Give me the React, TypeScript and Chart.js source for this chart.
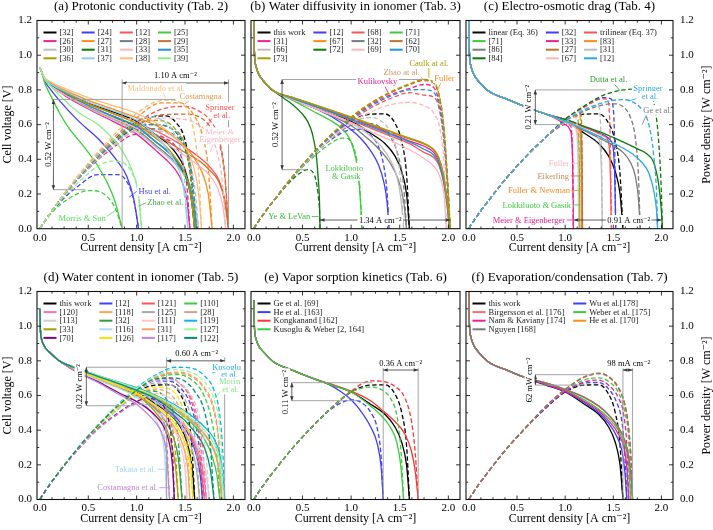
import React, { useEffect, useRef } from "react";
import { Chart, registerables } from "chart.js";

Chart.register(...registerables);

const FONT = '"Liberation Serif", "DejaVu Serif", "Times New Roman", serif';

// ---------------- axis ticks / titles ----------------
const xTickValues = [0, 0.5, 1.0, 1.5, 2.0];
const yTickValues = [0, 0.2, 0.4, 0.6, 0.8, 1.0, 1.2];
const panelTitles = [
  "(a) Protonic conductivity (Tab. 2)",
  "(b) Water diffusivity in ionomer (Tab. 3)",
  "(c) Electro-osmotic drag (Tab. 4)",
  "(d) Water content in ionomer (Tab. 5)",
  "(e) Vapor sorption kinetics (Tab. 6)",
  "(f) Evaporation/condensation (Tab. 7)",
];
const xTitle = "Current density [A cm⁻²]";
const yTitle = "Cell voltage [V]";
const y2Title = "Power density [W cm⁻²]";

// ---------------- data: [current density, cell voltage] pairs ----------------
// (a) protonic conductivity
const aStart = [0, 0.93, 0.02, 0.9];
const a32 = [0.05, 0.865, 0.1, 0.84, 0.25, 0.79, 0.5, 0.725, 0.75, 0.675, 1.0, 0.62, 1.2, 0.54, 1.3, 0.5, 1.4, 0.44, 1.5, 0.34, 1.56, 0.2, 1.6, 0];
const a24 = [0.05, 0.85, 0.1, 0.81, 0.2, 0.74, 0.4, 0.62, 0.6, 0.52, 0.8, 0.39, 0.9, 0.3, 0.97, 0.17, 1.02, 0];
const a12 = [0.05, 0.86, 0.1, 0.835, 0.25, 0.785, 0.5, 0.72, 0.75, 0.665, 1.0, 0.61, 1.25, 0.55, 1.5, 0.47, 1.65, 0.41, 1.75, 0.36, 1.85, 0.28, 1.91, 0.17, 1.95, 0];
const a25 = [0.05, 0.84, 0.1, 0.78, 0.2, 0.67, 0.3, 0.58, 0.4, 0.51, 0.5, 0.44, 0.6, 0.36, 0.7, 0.26, 0.78, 0.15, 0.85, 0];
const a26 = [0.05, 0.86, 0.1, 0.83, 0.25, 0.77, 0.5, 0.69, 0.75, 0.62, 1.0, 0.545, 1.2, 0.45, 1.3, 0.4, 1.4, 0.34, 1.47, 0.27, 1.52, 0.16, 1.55, 0];
const a27 = [0.05, 0.865, 0.1, 0.845, 0.25, 0.8, 0.5, 0.74, 0.75, 0.69, 1.0, 0.64, 1.25, 0.58, 1.45, 0.5, 1.58, 0.42, 1.68, 0.32, 1.74, 0.2, 1.78, 0];
const a28 = [0.05, 0.86, 0.1, 0.835, 0.25, 0.78, 0.5, 0.7, 0.75, 0.635, 1.0, 0.57, 1.2, 0.48, 1.35, 0.41, 1.45, 0.35, 1.53, 0.27, 1.58, 0.16, 1.62, 0];
const a29 = [0.05, 0.86, 0.1, 0.835, 0.25, 0.78, 0.5, 0.71, 0.75, 0.65, 1.0, 0.59, 1.25, 0.525, 1.5, 0.44, 1.65, 0.39, 1.75, 0.34, 1.85, 0.27, 1.91, 0.16, 1.95, 0];
const a30 = [0.05, 0.86, 0.1, 0.83, 0.25, 0.775, 0.5, 0.695, 0.75, 0.63, 1.0, 0.56, 1.2, 0.47, 1.35, 0.4, 1.45, 0.34, 1.54, 0.26, 1.6, 0.15, 1.64, 0];
const a31 = [0.05, 0.86, 0.1, 0.835, 0.25, 0.78, 0.5, 0.705, 0.75, 0.645, 1.0, 0.585, 1.2, 0.5, 1.35, 0.43, 1.45, 0.36, 1.53, 0.26, 1.57, 0.15, 1.6, 0];
const a33 = [0.05, 0.86, 0.1, 0.83, 0.25, 0.775, 0.5, 0.705, 0.75, 0.64, 1.0, 0.58, 1.25, 0.51, 1.5, 0.42, 1.65, 0.36, 1.75, 0.31, 1.84, 0.23, 1.89, 0.13, 1.92, 0];
const a35 = [0.05, 0.86, 0.1, 0.835, 0.25, 0.785, 0.5, 0.71, 0.75, 0.65, 1.0, 0.59, 1.2, 0.5, 1.3, 0.455, 1.4, 0.4, 1.5, 0.32, 1.57, 0.2, 1.62, 0];
const a36 = [0.05, 0.865, 0.1, 0.84, 0.25, 0.79, 0.5, 0.72, 0.75, 0.665, 1.0, 0.605, 1.2, 0.52, 1.3, 0.475, 1.4, 0.41, 1.5, 0.32, 1.56, 0.19, 1.6, 0];
const a37 = [0.05, 0.865, 0.1, 0.84, 0.25, 0.795, 0.5, 0.73, 0.75, 0.68, 1.0, 0.625, 1.15, 0.56, 1.3, 0.47, 1.4, 0.38, 1.48, 0.25, 1.53, 0];
const a38 = [0.05, 0.87, 0.1, 0.85, 0.25, 0.81, 0.5, 0.755, 0.75, 0.71, 1.0, 0.665, 1.2, 0.61, 1.35, 0.55, 1.45, 0.5, 1.55, 0.42, 1.62, 0.28, 1.65, 0.15, 1.67, 0];
const a39 = [0.05, 0.86, 0.1, 0.83, 0.2, 0.77, 0.4, 0.67, 0.6, 0.6, 0.75, 0.52, 0.85, 0.45, 0.95, 0.34, 1.02, 0.19, 1.05, 0];

// (b) water diffusivity in ionomer
const bStart = [0, 1.2, 0.005, 1.02, 0.02, 0.94, 0.05, 0.89, 0.1, 0.85, 0.2, 0.795];
const bThis = [0.4, 0.745, 0.6, 0.7, 0.8, 0.66, 1.0, 0.62, 1.2, 0.55, 1.35, 0.49, 1.45, 0.42, 1.52, 0.33, 1.57, 0.2, 1.6, 0];
const b12 = [0.4, 0.745, 0.6, 0.7, 0.8, 0.645, 1.0, 0.57, 1.1, 0.52, 1.2, 0.45, 1.28, 0.37, 1.34, 0.26, 1.37, 0.15, 1.39, 0];
const b68 = [0.4, 0.75, 0.6, 0.71, 0.8, 0.67, 1.0, 0.625, 1.2, 0.58, 1.4, 0.535, 1.6, 0.49, 1.75, 0.44, 1.85, 0.41, 1.9, 0.37, 1.95, 0.27, 1.99, 0.12, 2.01, 0];
const b71 = [0.4, 0.74, 0.6, 0.68, 0.8, 0.62, 0.9, 0.58, 0.95, 0.55, 1.0, 0.5, 1.05, 0.4, 1.08, 0.28, 1.1, 0.12, 1.11, 0];
const b31 = [0.4, 0.755, 0.6, 0.715, 0.8, 0.675, 1.0, 0.635, 1.2, 0.595, 1.4, 0.55, 1.6, 0.505, 1.75, 0.475, 1.85, 0.44, 1.9, 0.39, 1.95, 0.29, 1.99, 0.14, 2.02, 0];
const b67 = [0.4, 0.755, 0.6, 0.718, 0.8, 0.68, 1.0, 0.642, 1.2, 0.602, 1.4, 0.56, 1.6, 0.52, 1.75, 0.49, 1.85, 0.455, 1.9, 0.41, 1.95, 0.31, 1.99, 0.15, 2.02, 0];
const b32 = [0.4, 0.745, 0.6, 0.7, 0.8, 0.65, 1.0, 0.595, 1.2, 0.505, 1.3, 0.45, 1.4, 0.38, 1.48, 0.29, 1.54, 0.16, 1.57, 0];
const b62 = [0.4, 0.755, 0.6, 0.717, 0.8, 0.679, 1.0, 0.641, 1.2, 0.6, 1.4, 0.558, 1.6, 0.518, 1.75, 0.488, 1.85, 0.453, 1.9, 0.408, 1.95, 0.31, 1.99, 0.15, 2.02, 0];
const b66 = [0.4, 0.745, 0.6, 0.7, 0.8, 0.66, 1.0, 0.61, 1.2, 0.535, 1.3, 0.48, 1.4, 0.4, 1.47, 0.3, 1.51, 0.18, 1.54, 0];
const b72 = [0.3, 0.755, 0.4, 0.715, 0.5, 0.66, 0.55, 0.62, 0.6, 0.55, 0.64, 0.43, 0.66, 0.3, 0.675, 0.15, 0.68, 0];
const b69 = [0.4, 0.745, 0.6, 0.7, 0.8, 0.655, 1.0, 0.61, 1.2, 0.56, 1.4, 0.51, 1.6, 0.455, 1.75, 0.405, 1.85, 0.36, 1.92, 0.29, 1.96, 0.17, 1.98, 0];
const b70 = [0.4, 0.75, 0.6, 0.712, 0.8, 0.672, 1.0, 0.63, 1.2, 0.588, 1.4, 0.545, 1.6, 0.5, 1.75, 0.458, 1.85, 0.425, 1.9, 0.38, 1.95, 0.28, 1.99, 0.13, 2.01, 0];
const b73 = [0.4, 0.756, 0.6, 0.72, 0.8, 0.682, 1.0, 0.644, 1.2, 0.604, 1.4, 0.562, 1.6, 0.522, 1.75, 0.492, 1.85, 0.457, 1.9, 0.412, 1.95, 0.312, 1.99, 0.15, 2.02, 0];

// (c) electro-osmotic drag
const cStart = [0, 1.2, 0.005, 1.02, 0.02, 0.94, 0.05, 0.89, 0.1, 0.85, 0.2, 0.795, 0.4, 0.745, 0.6, 0.7, 0.8, 0.66];
const cLinear = [1.0, 0.62, 1.2, 0.55, 1.35, 0.49, 1.45, 0.42, 1.52, 0.33, 1.57, 0.2, 1.6, 0];
const c32 = [1.0, 0.63, 1.2, 0.585, 1.4, 0.54, 1.47, 0.51, 1.5, 0.46, 1.515, 0.3, 1.525, 0];
const cTrilinear = [1.0, 0.63, 1.2, 0.585, 1.4, 0.535, 1.44, 0.515, 1.46, 0.45, 1.47, 0.3, 1.48, 0];
const c71 = [0.9, 0.64, 1.0, 0.615, 1.1, 0.59, 1.13, 0.56, 1.145, 0.35, 1.15, 0];
const c33 = [0.9, 0.635, 1.0, 0.6, 1.05, 0.57, 1.07, 0.5, 1.08, 0.3, 1.085, 0];
const c83 = [0.9, 0.64, 1.0, 0.615, 1.1, 0.59, 1.15, 0.565, 1.165, 0.4, 1.17, 0];
const c86 = [1.0, 0.62, 1.2, 0.565, 1.4, 0.51, 1.5, 0.48, 1.6, 0.44, 1.68, 0.38, 1.73, 0.3, 1.76, 0.18, 1.78, 0];
const c27 = [0.9, 0.64, 1.0, 0.617, 1.1, 0.592, 1.16, 0.57, 1.175, 0.4, 1.18, 0];
const c31 = [1.0, 0.625, 1.2, 0.575, 1.3, 0.545, 1.35, 0.52, 1.37, 0.42, 1.38, 0.25, 1.385, 0];
const c84 = [1.0, 0.63, 1.2, 0.59, 1.4, 0.55, 1.6, 0.5, 1.75, 0.46, 1.85, 0.43, 1.92, 0.38, 1.97, 0.26, 2.0, 0.1, 2.01, 0];
const c67 = [0.9, 0.64, 1.0, 0.615, 1.1, 0.585, 1.12, 0.55, 1.135, 0.35, 1.14, 0];
const c12 = [1.0, 0.62, 1.2, 0.57, 1.4, 0.52, 1.6, 0.465, 1.7, 0.43, 1.8, 0.38, 1.87, 0.32, 1.92, 0.22, 1.95, 0.1, 1.96, 0];

// (d) water content in ionomer
const dStart = [0, 1.1, 0.005, 0.98, 0.02, 0.92, 0.05, 0.88, 0.1, 0.85, 0.2, 0.8];
const dThis = [0.4, 0.745, 0.6, 0.7, 0.8, 0.66, 1.0, 0.62, 1.2, 0.55, 1.35, 0.49, 1.45, 0.42, 1.52, 0.33, 1.57, 0.2, 1.6, 0];
const d12 = [0.4, 0.75, 0.6, 0.705, 0.8, 0.665, 1.0, 0.63, 1.2, 0.57, 1.35, 0.505, 1.45, 0.445, 1.55, 0.36, 1.62, 0.25, 1.66, 0.13, 1.68, 0];
const d121 = [0.4, 0.75, 0.6, 0.707, 0.8, 0.668, 1.0, 0.635, 1.2, 0.58, 1.35, 0.52, 1.45, 0.46, 1.55, 0.38, 1.63, 0.26, 1.67, 0.15, 1.7, 0];
const d110 = [0.4, 0.755, 0.6, 0.712, 0.8, 0.675, 1.0, 0.635, 1.2, 0.585, 1.4, 0.515, 1.55, 0.45, 1.7, 0.35, 1.78, 0.25, 1.83, 0.14, 1.86, 0];
const d120 = [0.4, 0.75, 0.6, 0.706, 0.8, 0.667, 1.0, 0.63, 1.2, 0.575, 1.35, 0.515, 1.45, 0.46, 1.55, 0.39, 1.64, 0.27, 1.69, 0.15, 1.72, 0];
const d118 = [0.4, 0.755, 0.6, 0.714, 0.8, 0.678, 1.0, 0.64, 1.2, 0.59, 1.4, 0.525, 1.55, 0.465, 1.7, 0.38, 1.8, 0.29, 1.85, 0.18, 1.88, 0];
const d125 = [0.4, 0.748, 0.6, 0.703, 0.8, 0.662, 1.0, 0.625, 1.2, 0.56, 1.35, 0.49, 1.45, 0.43, 1.53, 0.35, 1.6, 0.23, 1.63, 0.12, 1.65, 0];
const d28 = [0.4, 0.754, 0.6, 0.713, 0.8, 0.677, 1.0, 0.638, 1.2, 0.588, 1.4, 0.52, 1.55, 0.46, 1.7, 0.375, 1.8, 0.28, 1.85, 0.17, 1.88, 0];
const d113 = [0.4, 0.75, 0.6, 0.706, 0.8, 0.666, 1.0, 0.63, 1.2, 0.575, 1.4, 0.49, 1.5, 0.43, 1.6, 0.35, 1.68, 0.24, 1.72, 0.14, 1.75, 0];
const d32 = [0.4, 0.742, 0.6, 0.695, 0.8, 0.65, 1.0, 0.61, 1.1, 0.57, 1.2, 0.52, 1.3, 0.45, 1.38, 0.36, 1.43, 0.24, 1.47, 0];
const d111 = [0.4, 0.742, 0.6, 0.696, 0.8, 0.652, 1.0, 0.6, 1.2, 0.51, 1.3, 0.46, 1.4, 0.39, 1.46, 0.3, 1.5, 0.17, 1.52, 0];
const d119 = [0.4, 0.755, 0.6, 0.715, 0.8, 0.68, 1.0, 0.645, 1.2, 0.6, 1.4, 0.545, 1.55, 0.49, 1.7, 0.42, 1.8, 0.35, 1.86, 0.26, 1.89, 0.15, 1.91, 0];
const d33 = [0.4, 0.74, 0.6, 0.692, 0.8, 0.648, 1.0, 0.6, 1.1, 0.56, 1.2, 0.5, 1.3, 0.42, 1.36, 0.32, 1.4, 0.2, 1.43, 0];
const d116 = [0.4, 0.74, 0.6, 0.69, 0.8, 0.645, 1.0, 0.59, 1.1, 0.54, 1.2, 0.46, 1.26, 0.37, 1.29, 0.25, 1.31, 0];
const d31 = [0.4, 0.745, 0.6, 0.7, 0.8, 0.658, 1.0, 0.61, 1.2, 0.53, 1.3, 0.48, 1.4, 0.41, 1.48, 0.31, 1.53, 0.17, 1.55, 0];
const d127 = [0.4, 0.755, 0.6, 0.715, 0.8, 0.679, 1.0, 0.64, 1.2, 0.595, 1.4, 0.535, 1.55, 0.475, 1.7, 0.4, 1.8, 0.32, 1.86, 0.22, 1.9, 0];
const d70 = [0.4, 0.73, 0.6, 0.68, 0.8, 0.62, 1.0, 0.565, 1.1, 0.53, 1.2, 0.48, 1.28, 0.42, 1.34, 0.32, 1.37, 0.2, 1.39, 0];
const d126 = [0.4, 0.745, 0.6, 0.7, 0.8, 0.658, 1.0, 0.615, 1.2, 0.54, 1.35, 0.47, 1.45, 0.39, 1.52, 0.29, 1.56, 0.17, 1.58, 0];
const d117 = [0.4, 0.73, 0.6, 0.675, 0.8, 0.612, 1.0, 0.55, 1.1, 0.5, 1.2, 0.44, 1.27, 0.37, 1.31, 0.26, 1.34, 0];
const d122 = [0.4, 0.752, 0.6, 0.71, 0.8, 0.672, 1.0, 0.63, 1.2, 0.58, 1.4, 0.5, 1.5, 0.455, 1.6, 0.39, 1.7, 0.3, 1.76, 0.18, 1.8, 0];

// (e) vapor sorption kinetics
const eStart = [0, 1.15, 0.005, 1.0, 0.02, 0.93, 0.05, 0.885, 0.1, 0.85, 0.2, 0.795, 0.4, 0.745, 0.6, 0.7];
const eGe = [0.8, 0.66, 1.0, 0.62, 1.2, 0.55, 1.35, 0.49, 1.45, 0.42, 1.52, 0.33, 1.57, 0.2, 1.6, 0];
const eHe = [0.75, 0.67, 0.9, 0.62, 1.0, 0.575, 1.1, 0.51, 1.2, 0.42, 1.27, 0.32, 1.31, 0.18, 1.33, 0];
const eKong = [0.8, 0.665, 1.0, 0.625, 1.2, 0.57, 1.3, 0.525, 1.45, 0.45, 1.55, 0.38, 1.62, 0.28, 1.66, 0.16, 1.69, 0];
const eKus = [0.8, 0.66, 1.0, 0.62, 1.2, 0.54, 1.3, 0.49, 1.4, 0.42, 1.47, 0.33, 1.51, 0.2, 1.54, 0];

// (f) evaporation / condensation
const fStart = [0, 1.2, 0.005, 1.02, 0.02, 0.94, 0.05, 0.89, 0.1, 0.85, 0.2, 0.795, 0.4, 0.745, 0.6, 0.7];
const fThis = [0.8, 0.66, 1.0, 0.62, 1.2, 0.55, 1.35, 0.49, 1.45, 0.42, 1.52, 0.33, 1.57, 0.2, 1.6, 0];
const fWu = [0.8, 0.662, 1.0, 0.622, 1.2, 0.56, 1.35, 0.5, 1.45, 0.44, 1.53, 0.37, 1.59, 0.28, 1.62, 0.16, 1.64, 0];
const fBirg = [0.8, 0.672, 1.0, 0.634, 1.2, 0.588, 1.35, 0.537, 1.45, 0.487, 1.55, 0.415, 1.62, 0.335, 1.66, 0.24, 1.69, 0.1, 1.7, 0];
const fWeber = [0.8, 0.668, 1.0, 0.63, 1.2, 0.575, 1.35, 0.52, 1.45, 0.47, 1.55, 0.4, 1.62, 0.31, 1.66, 0.2, 1.68, 0];
const fNam = [0.8, 0.665, 1.0, 0.625, 1.2, 0.565, 1.35, 0.51, 1.45, 0.455, 1.55, 0.38, 1.61, 0.3, 1.64, 0.19, 1.66, 0];
const fHe = [0.8, 0.673, 1.0, 0.635, 1.2, 0.59, 1.35, 0.54, 1.45, 0.49, 1.55, 0.42, 1.62, 0.34, 1.66, 0.25, 1.69, 0.1, 1.7, 0];
const fNguyen = [0.8, 0.673, 1.0, 0.635, 1.2, 0.589, 1.35, 0.539, 1.45, 0.489, 1.55, 0.418, 1.62, 0.338, 1.66, 0.245, 1.69, 0.1, 1.7, 0];

// ---------------- legend labels ----------------
const aLabels = ["[32]", "[24]", "[12]", "[25]", "[26]", "[27]", "[28]", "[29]", "[30]", "[31]", "[33]", "[35]", "[36]", "[37]", "[38]", "[39]"];
const bLabels = ["this work", "[12]", "[68]", "[71]", "[31]", "[67]", "[32]", "[62]", "[66]", "[72]", "[69]", "[70]", "[73]"];
const cLabels = ["linear (Eq. 36)", "[32]", "trilinear (Eq. 37)", "[71]", "[33]", "[83]", "[86]", "[27]", "[31]", "[84]", "[67]", "[12]"];
const dLabels = ["this work", "[12]", "[121]", "[110]", "[120]", "[118]", "[125]", "[28]", "[113]", "[32]", "[111]", "[119]", "[33]", "[116]", "[31]", "[127]", "[70]", "[126]", "[117]", "[122]"];
const eLabels = ["Ge et al. [69]", "He et al. [163]", "Kongkanand [162]", "Kusoglu & Weber [2, 164]"];
const fLabels = ["this work", "Wu et al.[178]", "Birgersson et al. [176]", "Weber et al. [175]", "Nam & Kaviany [174]", "He et al. [170]", "Nguyen [168]"];

// ---------------- styles ----------------
const COL = {
  black: "#000000", blue: "#3f3fff", red: "#ff5252", green: "#3ccc3c", magenta: "#ee1f96",
  orange: "#ff8c1a", grey: "#7a7a7a", brown: "#c4732f", lgrey: "#bdbdbd", dgreen: "#0b7a0b",
  lpink: "#ffb5bd", dodger: "#2290dd", olive: "#ab9c00", lblue: "#8fd0f8", lorange: "#ffbc78",
  lgreen: "#8aee8a", sky: "#2aaae2", hotpink: "#ff6eb4", lorange2: "#ffa552", grey2: "#a8a8a8",
  tan: "#d4a27e", lgrey2: "#cfcfcf", mgreen: "#2f9e3f", lpink2: "#ffc4c4", dsky: "#0cb4f0",
  paleblue: "#aedcf0", sandy: "#f4a460", palegreen: "#9cf59c", purple: "#850085", yellow: "#f5e600",
  orchid: "#c784d6", teal: "#00906e", salmon: "#ff6a6a",
};

type Ann = (string | number)[];
interface PanelCfg {
  key: string; title: string; col: number; row: number; ncol: number;
  start: number[]; curves: number[][]; labels: string[]; colors: string[]; ann: Ann[];
}

const GREYL = "#9a9a9a";
const PANELS: PanelCfg[] = [
  {
    key: "a", title: panelTitles[0], col: 0, row: 0, ncol: 4, start: aStart,
    curves: [a32, a24, a12, a25, a26, a27, a28, a29, a30, a31, a33, a35, a36, a37, a38, a39],
    labels: aLabels,
    colors: [COL.black, COL.blue, COL.red, COL.green, COL.magenta, COL.orange, COL.grey, COL.brown, COL.lgrey, COL.dgreen, COL.lpink, COL.dodger, COL.olive, COL.lblue, COL.lorange, COL.lgreen],
    ann: [
      ["line", 0.14, 0.745, 1.4, 0.745], ["line", 0.14, 0.225, 0.47, 0.225], ["arrow", 0.14, 0.745, 0.14, 0.225],
      ["text", 0.085, 0.485, "0.52 W cm⁻²", "#000", 1, "c"],
      ["line", 0.85, 0.86, 0.85, 0], ["line", 1.95, 0.86, 1.95, 0], ["arrow", 0.85, 0.84, 1.95, 0.84],
      ["text", 1.4, 0.885, "1.10 A cm⁻²", "#000", 0, "c"],
      ["lead", 1.26, 0.795, 1.3, 0.755, COL.lorange], ["text", 1.2, 0.81, "Maldonado et al.", COL.lorange, 0, "c"],
      ["lead", 1.57, 0.75, 1.5, 0.72, "#e39a50"], ["text", 1.66, 0.765, "Costamagna", "#e39a50", 0, "c"],
      ["lead", 1.78, 0.635, 1.72, 0.59, COL.red], ["text", 1.86, 0.7, "Springer", COL.red, 0, "c"], ["text", 1.88, 0.655, "et al.", COL.red, 0, "c"],
      ["lead", 1.8, 0.5, 1.76, 0.44, COL.lpink], ["text", 1.86, 0.555, "Meier &", COL.lpink, 0, "c"], ["text", 1.86, 0.515, "Eigenberger", COL.lpink, 0, "c"],
      ["lead", 1.0, 0.215, 0.92, 0.18, COL.blue], ["text", 1.02, 0.215, "Hsu et al.", COL.blue, 0, "l"],
      ["lead", 1.1, 0.15, 1.02, 0.13, "#44aa44"], ["text", 1.11, 0.15, "Zhao et al.", "#44aa44", 0, "l"],
      ["lead", 0.69, 0.07, 0.79, 0.11, "#55dd55"], ["text", 0.68, 0.06, "Morris & Sun", "#55dd55", 0, "r"],
    ],
  },
  {
    key: "b", title: panelTitles[1], col: 1, row: 0, ncol: 4, start: bStart,
    curves: [bThis, b12, b68, b71, b31, b67, b32, b62, b66, b72, b69, b70, b73],
    labels: bLabels,
    colors: [COL.black, COL.blue, COL.red, COL.green, COL.magenta, COL.orange, COL.grey, COL.brown, COL.lgrey, COL.dgreen, COL.lpink, COL.dodger, COL.olive],
    ann: [
      ["line", 0.29, 0.86, 1.75, 0.86], ["line", 0.29, 0.34, 0.55, 0.34], ["arrow", 0.29, 0.86, 0.29, 0.34],
      ["text", 0.22, 0.6, "0.52 W cm⁻²", "#000", 1, "c"],
      ["arrow", 0.68, 0.05, 2.02, 0.05], ["text", 1.3, 0.05, "1.34 A cm⁻²", "#000", 0, "c"],
      ["lead", 0.59, 0.07, 0.665, 0.07, "#33bb33"], ["text", 0.58, 0.07, "Ye & LeVan", "#33bb33", 0, "r"],
      ["lead", 1.07, 0.285, 1.09, 0.24, COL.green], ["text", 0.93, 0.35, "Lokkiluoto", COL.green, 0, "c"], ["text", 0.95, 0.305, "& Gasik", COL.green, 0, "c"],
      ["lead", 1.34, 0.83, 1.38, 0.785, COL.magenta], ["text", 1.27, 0.848, "Kulikovsky", COL.magenta, 0, "c"],
      ["lead", 1.7, 0.89, 1.74, 0.86, "#d8956a"], ["text", 1.52, 0.9, "Zhao at al.", "#d8956a", 0, "c"],
      ["lead", 1.8, 0.935, 1.8, 0.87, COL.olive], ["text", 1.8, 0.955, "Caulk at al.", COL.olive, 0, "c"],
      ["lead", 1.93, 0.85, 1.89, 0.8, COL.orange], ["text", 1.96, 0.868, "Fuller", COL.orange, 0, "c"],
    ],
  },
  {
    key: "c", title: panelTitles[2], col: 2, row: 0, ncol: 3, start: cStart,
    curves: [cLinear, c32, cTrilinear, c71, c33, c83, c86, c27, c31, c84, c67, c12],
    labels: cLabels,
    colors: [COL.black, COL.blue, COL.red, COL.green, COL.magenta, COL.orange, COL.grey, COL.brown, COL.lgrey, COL.dgreen, COL.lpink, COL.sky],
    ann: [
      ["line", 0.69, 0.8, 1.42, 0.8], ["line", 0.69, 0.6, 0.96, 0.6], ["arrow", 0.69, 0.8, 0.69, 0.6],
      ["text", 0.62, 0.7, "0.21 W cm⁻²", "#000", 1, "c"],
      ["arrow", 1.09, 0.05, 2.0, 0.05], ["text", 1.66, 0.05, "0.91 A cm⁻²", "#000", 0, "c"],
      ["lead", 1.5, 0.84, 1.57, 0.795, "#2e9e2e"], ["text", 1.45, 0.86, "Dutta et al.", "#2e9e2e", 0, "c"],
      ["lead", 1.74, 0.75, 1.66, 0.735, COL.sky], ["text", 1.86, 0.81, "Springer", COL.sky, 0, "c"], ["text", 1.88, 0.765, "et al.", COL.sky, 0, "c"],
      ["lead", 1.85, 0.665, 1.8, 0.6, COL.grey], ["text", 1.96, 0.685, "Ge et al.", COL.grey, 0, "c"],
      ["lead", 1.045, 0.377, 1.13, 0.377, COL.lpink], ["text", 1.04, 0.377, "Fuller", COL.lpink, 0, "r"],
      ["lead", 1.045, 0.304, 1.172, 0.304, COL.brown], ["text", 1.04, 0.304, "Eikerling", "#c98a5a", 0, "r"],
      ["lead", 1.055, 0.22, 1.165, 0.22, COL.orange], ["text", 1.05, 0.22, "Fuller & Newman", COL.orange, 0, "r"],
      ["lead", 1.065, 0.137, 1.145, 0.137, COL.green], ["text", 1.06, 0.137, "Lokkiluoto & Gasik", COL.green, 0, "r"],
      ["lead", 1.005, 0.05, 1.08, 0.05, COL.magenta], ["text", 1.0, 0.05, "Meier & Eigenberger", COL.magenta, 0, "r"],
    ],
  },
  {
    key: "d", title: panelTitles[3], col: 0, row: 1, ncol: 4, start: dStart,
    curves: [dThis, d12, d121, d110, d120, d118, d125, d28, d113, d32, d111, d119, d33, d116, d31, d127, d70, d126, d117, d122],
    labels: dLabels,
    colors: [COL.black, COL.blue, COL.red, COL.green, COL.hotpink, COL.lorange2, COL.grey2, COL.tan, COL.lgrey2, COL.mgreen, COL.lpink2, COL.dsky, COL.olive, COL.paleblue, COL.sandy, COL.palegreen, COL.purple, COL.yellow, COL.orchid, COL.teal],
    ann: [
      ["line", 0.48, 0.763, 1.31, 0.763], ["line", 0.48, 0.541, 0.97, 0.541], ["arrow", 0.48, 0.763, 0.48, 0.541],
      ["text", 0.41, 0.652, "0.22 W cm⁻²", "#000", 1, "c"],
      ["line", 1.31, 0.82, 1.31, 0], ["line", 1.91, 0.82, 1.91, 0], ["arrow", 1.31, 0.8, 1.91, 0.8],
      ["text", 1.62, 0.845, "0.60 A cm⁻²", "#000", 0, "c"],
      ["lead", 1.86, 0.745, 1.78, 0.73, "#1aaeea"], ["text", 1.93, 0.765, "Kusoglu", "#1aaeea", 0, "c"], ["text", 1.96, 0.72, "et al.", "#1aaeea", 0, "c"],
      ["lead", 1.88, 0.63, 1.8, 0.58, "#88e888"], ["text", 1.96, 0.68, "Morin", "#88e888", 0, "c"], ["text", 1.97, 0.635, "et al.", "#88e888", 0, "c"],
      ["lead", 1.21, 0.174, 1.295, 0.174, "#9fd5ee"], ["text", 1.2, 0.174, "Takata et al.", "#9fd5ee", 0, "r"],
      ["lead", 1.23, 0.068, 1.33, 0.068, COL.orchid], ["text", 1.22, 0.068, "Costamagna et al.", COL.orchid, 0, "r"],
    ],
  },
  {
    key: "e", title: panelTitles[4], col: 1, row: 1, ncol: 1, start: eStart,
    curves: [eGe, eHe, eKong, eKus],
    labels: eLabels,
    colors: [COL.black, COL.blue, "#ff3333", COL.green],
    ann: [
      ["line", 1.33, 0.805, 1.33, 0], ["line", 1.69, 0.805, 1.69, 0], ["arrow", 1.33, 0.747, 1.69, 0.747],
      ["text", 1.51, 0.787, "0.36 A cm⁻²", "#000", 0, "c"],
      ["line", 0.39, 0.674, 1.22, 0.674], ["line", 0.39, 0.57, 1.1, 0.57], ["arrow", 0.39, 0.674, 0.39, 0.57],
      ["text", 0.32, 0.62, "0.11 W cm⁻²", "#000", 1, "c"],
    ],
  },
  {
    key: "f", title: panelTitles[5], col: 2, row: 1, ncol: 2, start: fStart,
    curves: [fThis, fWu, fBirg, fWeber, fNam, fHe, fNguyen],
    labels: fLabels,
    colors: [COL.black, COL.blue, COL.salmon, COL.green, COL.magenta, COL.orange, COL.grey],
    ann: [
      ["line", 1.6, 0.8, 1.6, 0], ["line", 1.7, 0.8, 1.7, 0], ["arrow", 1.6, 0.747, 1.7, 0.747],
      ["text", 1.66, 0.786, "98 mA cm⁻²", "#000", 0, "c"],
      ["line", 0.69, 0.72, 1.29, 0.72], ["line", 0.69, 0.66, 1.2, 0.66], ["arrow", 0.69, 0.72, 0.69, 0.66],
      ["text", 0.63, 0.69, "62 mW cm⁻²", "#000", 1, "c"],
    ],
  },
];

// ---------------- layout ----------------
const W = 713, H = 530;
const COLS = [{ l: 37, r: 245 }, { l: 251, r: 460 }, { l: 466, r: 673 }];
const ROWS = [{ t: 20.5, b: 228.7 }, { t: 291.5, b: 499.5 }];
const X_MIN = -0.03, X_MAX = 2.12;
const LEFT_W = 37, RIGHT_W = 40, XAX_H = 27;

function arrowHead(ctx: CanvasRenderingContext2D, x: number, y: number, ang: number) {
  const L = 4.5, Wd = 1.8;
  const c = Math.cos(ang), s = Math.sin(ang);
  ctx.beginPath();
  ctx.moveTo(x, y);
  ctx.lineTo(x - L * c + Wd * s, y - L * s - Wd * c);
  ctx.lineTo(x - L * c - Wd * s, y - L * s + Wd * c);
  ctx.closePath();
  ctx.fill();
}

function label(ctx: CanvasRenderingContext2D, px: number, py: number, s: string, color: string, rot: boolean, align: string) {
  ctx.save();
  ctx.translate(px, py);
  if (rot) ctx.rotate(-Math.PI / 2);
  ctx.font = `8.5px ${FONT}`;
  const w = ctx.measureText(s).width;
  const x0 = align === "l" ? 0 : align === "r" ? -w : -w / 2;
  ctx.fillStyle = "#ffffff";
  ctx.fillRect(x0 - 1.5, -5, w + 3, 10);
  ctx.fillStyle = color;
  ctx.textAlign = "left";
  ctx.textBaseline = "middle";
  ctx.fillText(s, x0, 0.5);
  ctx.restore();
}

function makePlugin(p: PanelCfg) {
  return {
    id: "deco_" + p.key,
    afterDatasetsDraw(chart: any) {
      const ctx: CanvasRenderingContext2D = chart.ctx;
      const ca = chart.chartArea;
      const xs = chart.scales.x, ys = chart.scales.y;
      const X = (v: number) => xs.getPixelForValue(v);
      const Y = (v: number) => ys.getPixelForValue(v);
      ctx.save();
      // annotations: lines first, then text
      for (const a of p.ann) {
        const k = a[0];
        if (k === "line" || k === "lead") {
          ctx.strokeStyle = k === "line" ? GREYL : (a[5] as string);
          ctx.lineWidth = k === "line" ? 0.9 : 0.8;
          ctx.beginPath();
          ctx.moveTo(X(a[1] as number), Y(a[2] as number));
          ctx.lineTo(X(a[3] as number), Y(a[4] as number));
          ctx.stroke();
        } else if (k === "arrow") {
          const x1 = X(a[1] as number), y1 = Y(a[2] as number), x2 = X(a[3] as number), y2 = Y(a[4] as number);
          ctx.strokeStyle = "#3a3a3a";
          ctx.fillStyle = "#3a3a3a";
          ctx.lineWidth = 0.8;
          ctx.beginPath();
          ctx.moveTo(x1, y1);
          ctx.lineTo(x2, y2);
          ctx.stroke();
          const ang = Math.atan2(y2 - y1, x2 - x1);
          arrowHead(ctx, x2, y2, ang);
          arrowHead(ctx, x1, y1, ang + Math.PI);
        }
      }
      for (const a of p.ann) {
        if (a[0] === "text") {
          label(ctx, X(a[1] as number), Y(a[2] as number), a[3] as string, a[4] as string, a[5] === 1, a[6] as string);
        }
      }
      // legend
      ctx.font = `8.5px ${FONT}`;
      ctx.textBaseline = "middle";
      ctx.textAlign = "left";
      const lineLen = 13, gap = 3, colSp = 8, rowH = 8.6;
      const colW: number[] = [];
      p.labels.forEach((s, i) => {
        const c = i % p.ncol;
        colW[c] = Math.max(colW[c] || 0, ctx.measureText(s).width);
      });
      const colX: number[] = [];
      let cx = ca.left + 6.5;
      for (let c = 0; c < p.ncol; c++) {
        colX[c] = cx;
        cx += lineLen + gap + colW[c] + colSp;
      }
      p.labels.forEach((s, i) => {
        const c = i % p.ncol, r = Math.floor(i / p.ncol);
        const ly = ca.top + 12 + r * rowH;
        ctx.strokeStyle = p.colors[i];
        ctx.lineWidth = 2;
        ctx.beginPath();
        ctx.moveTo(colX[c], ly);
        ctx.lineTo(colX[c] + lineLen, ly);
        ctx.stroke();
        ctx.fillStyle = "#222";
        ctx.fillText(s, colX[c] + lineLen + gap, ly + 0.5);
      });
      // inner ticks
      ctx.strokeStyle = "#000";
      ctx.lineWidth = 0.8;
      ctx.beginPath();
      for (let k = 1; k * 0.125 < X_MAX; k++) {
        const v = k * 0.125;
        const len = k % 4 === 0 ? 4 : 2.2;
        const px = X(v);
        ctx.moveTo(px, ca.bottom); ctx.lineTo(px, ca.bottom - len);
        ctx.moveTo(px, ca.top); ctx.lineTo(px, ca.top + len);
      }
      for (let k = 1; k < 12; k++) {
        const v = k * 0.1;
        const len = k % 2 === 0 ? 4 : 2.2;
        const py = Y(v);
        ctx.moveTo(ca.left, py); ctx.lineTo(ca.left + len, py);
        ctx.moveTo(ca.right, py); ctx.lineTo(ca.right - len, py);
      }
      ctx.stroke();
      // frame
      ctx.lineWidth = 1.1;
      ctx.strokeStyle = "#111";
      ctx.strokeRect(ca.left, ca.top, ca.right - ca.left, ca.bottom - ca.top);
      // title
      ctx.fillStyle = "#000";
      ctx.font = `13px ${FONT}`;
      ctx.textAlign = "center";
      ctx.textBaseline = "middle";
      ctx.fillText(p.title, (ca.left + ca.right) / 2, ca.top - 14);
      // right axis title
      if (p.col === 2) {
        ctx.save();
        ctx.font = `12px ${FONT}`;
        ctx.translate(W - 6.5, (ca.top + ca.bottom) / 2);
        ctx.rotate(-Math.PI / 2);
        ctx.fillText(y2Title, 0, 0);
        ctx.restore();
      }
      ctx.restore();
    },
  };
}

function buildConfig(p: PanelCfg): any {
  const datasets: any[] = [];
  p.curves.forEach((tail, i) => {
    const pts = [...p.start, ...tail];
    const v: { x: number; y: number }[] = [];
    const pw: { x: number; y: number }[] = [];
    for (let k = 0; k < pts.length; k += 2) {
      v.push({ x: pts[k], y: pts[k + 1] });
      pw.push({ x: pts[k], y: pts[k] * pts[k + 1] });
    }
    const base = { borderColor: p.colors[i], borderWidth: 1.3, pointRadius: 0, fill: false, cubicInterpolationMode: "monotone" };
    datasets.push({ ...base, label: p.labels[i], data: v, yAxisID: "y" });
    datasets.push({ ...base, label: p.labels[i] + " P", data: pw, yAxisID: "y2", borderDash: [4.5, 2.5] });
  });
  // Chart.js paints the first dataset on top; reverse so later series are drawn over earlier ones
  datasets.reverse();
  const c = COLS[p.col], r = ROWS[p.row];
  const showL = p.col === 0, showR = p.col === 2;
  const tickFont = { family: FONT, size: 11 };
  return {
    type: "line",
    data: { datasets },
    plugins: [makePlugin(p)],
    options: {
      animation: false,
      responsive: false,
      devicePixelRatio: 1,
      events: [],
      layout: {
        padding: {
          left: c.l - (showL ? LEFT_W : 0),
          right: W - c.r - (showR ? RIGHT_W : 0),
          top: r.t,
          bottom: H - r.b - XAX_H,
        },
      },
      plugins: { legend: { display: false }, tooltip: { enabled: false }, title: { display: false } },
      scales: {
        x: {
          type: "linear", position: "bottom", min: X_MIN, max: X_MAX,
          grid: { display: false, drawTicks: false },
          border: { display: false },
          afterBuildTicks: (s: any) => { s.ticks = xTickValues.map((v) => ({ value: v })); },
          afterFit: (s: any) => { s.height = XAX_H; },
          ticks: { color: "#000", font: tickFont, padding: 2.5, maxRotation: 0, callback: (v: any) => Number(v).toFixed(1) },
          title: { display: true, text: xTitle, color: "#000", font: { family: FONT, size: 12 }, padding: { top: 0, bottom: 0.5 } },
        },
        y: {
          type: "linear", position: "left", min: 0, max: 1.2,
          grid: { display: false, drawTicks: false },
          border: { display: false },
          afterBuildTicks: (s: any) => { s.ticks = yTickValues.map((v) => ({ value: v })); },
          afterFit: (s: any) => { s.width = showL ? LEFT_W : 0; },
          ticks: { display: showL, color: "#000", font: tickFont, padding: 5, callback: (v: any) => Number(v).toFixed(1) },
          title: { display: showL, text: yTitle, color: "#000", font: { family: FONT, size: 12 }, padding: { top: 1, bottom: 0 } },
        },
        y2: {
          type: "linear", position: "right", min: 0, max: 1.2,
          grid: { display: false, drawTicks: false },
          border: { display: false },
          afterBuildTicks: (s: any) => { s.ticks = yTickValues.map((v) => ({ value: v })); },
          afterFit: (s: any) => { s.width = showR ? RIGHT_W : 0; },
          ticks: { display: showR, color: "#000", font: tickFont, padding: 7, callback: (v: any) => Number(v).toFixed(1) },
          title: { display: false },
        },
      },
    },
  };
}

function PanelChart({ p }: { p: PanelCfg }) {
  const ref = useRef<HTMLCanvasElement>(null);
  useEffect(() => {
    const chart = new Chart(ref.current as HTMLCanvasElement, buildConfig(p));
    return () => chart.destroy();
  }, [p]);
  return (
    <canvas
      ref={ref}
      width={W}
      height={H}
      style={{ position: "absolute", left: 0, top: 0, width: W, height: H }}
    />
  );
}

export default function App() {
  return (
    <div style={{ position: "absolute", left: 0, top: 0, width: W, height: H, background: "#ffffff", overflow: "hidden" }}>
      {PANELS.map((p) => (
        <PanelChart key={p.key} p={p} />
      ))}
    </div>
  );
}
